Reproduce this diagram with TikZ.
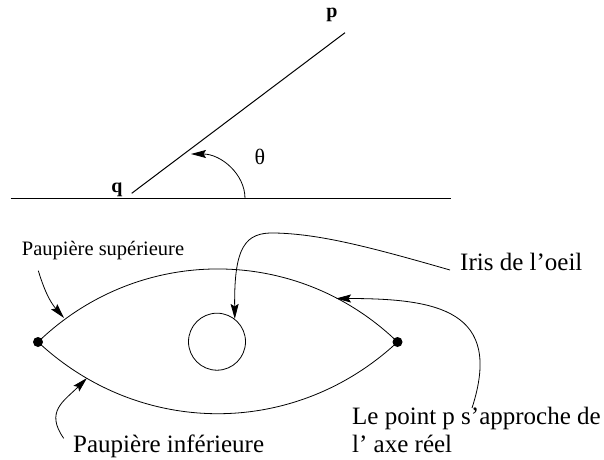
\documentclass[tikz,border=0pt]{standalone}
\usepackage{fontspec}
\setmainfont{Liberation Serif}
\usetikzlibrary{arrows.meta}

\begin{document}
\begin{tikzpicture}[x=1pt, y=1pt,
  lbl/.style={font=\fontsize{25}{28}\selectfont, inner sep=0pt, anchor=base west},
  pt/.style={font=\fontsize{20}{22}\selectfont\bfseries, inner sep=0pt, anchor=base},
  arr/.style={-{Stealth[length=15pt, width=8pt, inset=2.5pt]}, line width=0.8pt},
  dot/.style={circle, fill, inner sep=0pt, minimum size=10pt}]
\useasboundingbox (0,0) rectangle (604,459);
% angle
\coordinate (hl) at (10.7,260.5);
\coordinate (hr) at (451,260.5);
\coordinate (q0) at (131.7,265.7);
\coordinate (p0) at (345,426.3);
\coordinate (a0) at (245,260.5);
\draw[line width=1.5pt] (hl) -- (hr);
\draw[line width=1pt] (q0) -- (p0);
\node[pt] (q) at (117,267) {q};
\node[pt] (p) at (332,441.5) {p};
\node[font=\fontsize{22}{24}\selectfont] (theta) at (260,302) {θ};
\draw[arr] (a0) arc[start angle=0, end angle=90, x radius=54, y radius=44.5];
% eye
\node[dot] (ld) at (38,117) {};
\node[dot] (rd) at (397.5,117) {};
\draw[line width=0.8pt] (ld.center) to[bend left=44] (rd.center) to[bend left=43] (ld.center);
\node[draw, circle, line width=0.8pt, inner sep=0pt, minimum size=57pt] (iris) at (217,117.3) {};
\node[lbl, font=\fontsize{20.5}{22}\selectfont] (sup) at (21.7,204) {Paupière supérieure};
\node[lbl, inner xsep=10pt] (irislbl) at (450,189) {Iris de l’oeil};
\node[lbl] (lp1) at (352,35) {Le point p s’approche de};
\node[lbl] (lp2) at (352,7) {l’ axe réel};
\node[lbl] (inf) at (73,7) {Paupière inférieure};
% free ends
\coordinate (supstart) at (38.3,188.3);
\coordinate (suptip) at (64,141);
\coordinate (infstart) at (63.7,20.7);
\coordinate (inftip) at (87,81);
\coordinate (lpstart) at (472,51);
\coordinate (lptip) at (336,160.5);
\draw[arr] (supstart) to[out=-73, in=131] (suptip);
\draw[arr] (infstart) to[out=125, in=225, looseness=1.3] (inftip);
\draw[arr] (lpstart) to[out=72, in=0, looseness=1.5] (lptip);
\draw[arr] (irislbl.base west) .. controls (370,212) and (320,225) .. (275,226)
  .. controls (245,227) and (234,212) .. (iris.52);
\end{tikzpicture}
\end{document}
